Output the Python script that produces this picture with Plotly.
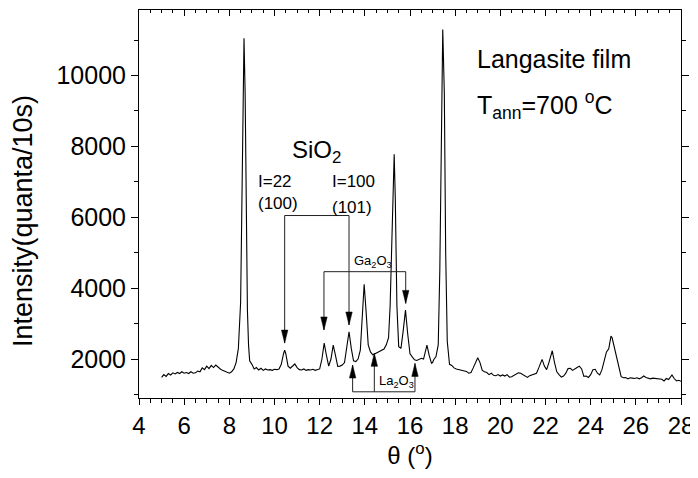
import plotly.graph_objects as go

theta = [5.0,5.1,5.2,5.3,5.4,5.5,5.6,5.7,5.8,5.9,6.0,6.1,6.2,6.3,6.4,6.5,6.6,6.7,6.8,6.9,
         7.0,7.1,7.2,7.3,7.4,7.5,7.6,7.7,7.8,7.9,8.0,8.1,8.2,8.3,8.4,8.5,8.55,8.6,8.65,8.7,
         8.75,8.8,8.85,8.9,9.0,9.1,9.2,9.3,9.4,9.5,9.6,9.7,9.8,9.9,10.0,10.1,10.2,10.3,10.4,10.45,
         10.5,10.6,10.7,10.8,10.9,11.0,11.1,11.2,11.3,11.4,11.5,11.6,11.7,11.8,11.9,12.0,12.1,12.2,12.3,12.4,
         12.5,12.6,12.7,12.8,12.9,13.0,13.1,13.2,13.3,13.4,13.5,13.6,13.7,13.8,13.9,13.97,14.05,14.15,14.25,14.35,
         14.45,14.55,14.65,14.75,14.85,14.95,15.05,15.12,15.2,15.27,15.3,15.35,15.42,15.5,15.6,15.7,15.8,15.9,16.0,16.1,
         16.2,16.3,16.4,16.5,16.6,16.7,16.75,16.85,16.95,17.0,17.05,17.15,17.25,17.32,17.38,17.45,17.52,17.58,17.65,17.75,
         17.85,17.95,18.05,18.15,18.25,18.35,18.5,18.6,18.7,18.8,18.9,19.0,19.1,19.2,19.3,19.4,19.5,19.6,19.7,19.8,
         19.9,20.0,20.1,20.2,20.3,20.4,20.5,20.6,20.7,20.8,20.9,21.0,21.1,21.2,21.3,21.4,21.5,21.6,21.7,21.8,
         21.85,21.95,22.05,22.15,22.25,22.3,22.4,22.5,22.6,22.7,22.8,22.9,23.0,23.1,23.2,23.3,23.4,23.5,23.6,23.7,
         23.8,23.9,24.0,24.1,24.2,24.3,24.4,24.5,24.6,24.7,24.8,24.9,24.95,25.05,25.15,25.25,25.35,25.45,25.55,25.65,
         25.75,25.85,25.95,26.05,26.15,26.25,26.35,26.45,26.55,26.65,26.75,26.85,26.95,27.05,27.15,27.25,27.35,27.45,27.55,27.6,
         27.7,27.8,27.9,28.0]
intensity = [1480,1560,1510,1590,1550,1610,1580,1620,1590,1640,1600,1620,1590,1640,1600,1610,1660,1640,1750,1700,
             1800,1730,1820,1760,1830,1760,1720,1680,1650,1620,1600,1640,1720,1900,2300,3600,6500,10000,11050,9500,
             6000,3400,2400,1950,1850,1720,1760,1690,1740,1680,1720,1690,1700,1680,1710,1700,1720,1850,2150,2250,
             2150,1800,1740,1800,1860,1760,1700,1690,1720,1680,1700,1690,1710,1680,1700,1720,2000,2450,2100,1800,
             2000,2390,2100,1790,1800,1830,1900,2300,2770,2300,1950,1930,2000,2250,3300,4110,3400,2400,2200,2120,
             2150,2180,2200,2230,2280,2400,2600,3500,5600,7550,7780,6500,3500,2350,2300,2800,3380,2700,2150,2060,
             1980,1960,2000,2020,2000,2300,2390,2100,1880,1900,1980,2070,2400,4500,8500,11300,9500,5000,2500,1850,
             1820,1750,1720,1700,1680,1660,1650,1600,1620,1750,1900,2036,1900,1680,1640,1620,1560,1600,1540,1530,
             1560,1520,1550,1520,1560,1490,1500,1540,1590,1610,1600,1560,1510,1480,1530,1560,1580,1600,1750,1950,
             1990,1800,1700,1900,2180,2233,1900,1640,1560,1490,1520,1600,1730,1740,1680,1730,1760,1800,1720,1510,
             1520,1480,1560,1700,1710,1600,1550,1700,1950,2200,2290,2648,2600,2300,2000,1700,1500,1470,1480,1440,
             1470,1460,1450,1470,1440,1470,1520,1480,1460,1440,1460,1450,1440,1420,1430,1380,1450,1420,1520,1550,
             1450,1380,1400,1370]

x_ticks = [4, 6, 8, 10, 12, 14, 16, 18, 20, 22, 24, 26, 28]
y_ticks = [2000, 4000, 6000, 8000, 10000]
y_ticktext = ["2000", "4000", "6000", "8000", "10000"]

# indicator brackets
sio2_x = [10.45, 13.3]
sio2_tip = [2450, 2960]
sio2_bar = 6050
ga_x = [12.19, 15.81]
ga_tip = [2820, 3570]
ga_bar = 4465
la_x = [13.46, 14.42, 16.22]
la_tip = [1830, 2160, 1877]
la_bar = 1075

X_RANGE = [4, 28]
Y_RANGE = [900, 11850]
FONT = "Liberation Sans, Arial, sans-serif"

fig = go.Figure()
fig.add_trace(go.Scatter(x=theta, y=intensity, mode="lines",
                         line=dict(color="black", width=1.1), hoverinfo="skip", showlegend=False))
# invisible trace to carry the top axis
fig.add_trace(go.Scatter(x=theta, y=intensity, mode="lines", line=dict(width=0),
                         opacity=0, xaxis="x2", yaxis="y2", hoverinfo="skip", showlegend=False))

LC = "#222222"
def bracket(xs, tips, bar):
    bx = [xs[0], xs[0], xs[-1], xs[-1]]
    by = [tips[0], bar, bar, tips[-1]]
    fig.add_trace(go.Scatter(x=bx, y=by, mode="lines", line=dict(color=LC, width=1),
                             hoverinfo="skip", showlegend=False))
    for xm, t in zip(xs[1:-1], tips[1:-1]):
        fig.add_trace(go.Scatter(x=[xm, xm], y=[bar, t], mode="lines", line=dict(color=LC, width=1),
                                 hoverinfo="skip", showlegend=False))

bracket(sio2_x, sio2_tip, sio2_bar)
bracket(ga_x, ga_tip, ga_bar)
bracket(la_x, la_tip, la_bar)

# arrowheads (pixel-sized, converted to data units)
px_per_x = 542 / (X_RANGE[1] - X_RANGE[0])
px_per_y = 388 / (Y_RANGE[1] - Y_RANGE[0])
HW = 3.2 / px_per_x
HL = 13 / px_per_y
def head(x, tip, down=True):
    base = tip + HL if down else tip - HL
    fig.add_shape(type="path", xref="x", yref="y",
                  path=f"M {x-HW},{base} L {x+HW},{base} L {x},{tip} Z",
                  fillcolor="black", line=dict(color="black", width=0.5))

for xx, t in zip(sio2_x, sio2_tip):
    head(xx, t, True)
for xx, t in zip(ga_x, ga_tip):
    head(xx, t, True)
for xx, t in zip(la_x, la_tip):
    head(xx, t, False)

def txt(x, y, s, size, xanchor="center"):
    fig.add_annotation(x=x, y=y, xref="x", yref="y", text=s, showarrow=False,
                       font=dict(family=FONT, size=size, color="black"), xanchor=xanchor)

txt(11.87, 7850, "SiO<sub>2</sub>", 24)
txt(10.02, 7000, "I=22", 17)
txt(10.16, 6380, "(100)", 17)
txt(13.49, 7000, "I=100", 17)
txt(13.42, 6290, "(101)", 17)
txt(14.35, 4746, "Ga<sub>2</sub>O<sub>3</sub>", 13)
txt(15.38, 1358, "La<sub>2</sub>O<sub>3</sub>", 13)
txt(18.88, 10460, "Langasite film", 25, "left")
txt(18.88, 9170, "T<sub>ann</sub>=700 <sup>o</sup>C", 25, "left")

# y-axis title (placed as rotated text to match the reference position)
fig.add_annotation(x=-0.214, y=0.456, xref="paper", yref="paper", text="Intensity(quanta/10s)",
                   textangle=-90, showarrow=False, xanchor="center", yanchor="middle",
                   font=dict(family=FONT, size=27, color="black"))

axis_common = dict(showgrid=False, zeroline=False, showline=True, linecolor="black", linewidth=1,
                   tickcolor="black", automargin=False)

# page body has an 8px margin; the figure is sized so the plot lands where the reference has it
fig.update_layout(
    width=690, height=470,
    margin=dict(l=131, r=17, t=2, b=80),
    paper_bgcolor="white", plot_bgcolor="white",
    font=dict(family=FONT, color="black"),
    xaxis=dict(range=X_RANGE, tickvals=x_ticks, ticks="outside", ticklen=6, mirror=True,
               tickfont=dict(family=FONT, size=24, color="black"),
               minor=dict(dtick=0.5, tick0=4, ticks="outside", ticklen=4, tickcolor="black"),
               title=dict(text="θ (<sup>o</sup>)", font=dict(family=FONT, size=24), standoff=8),
               **axis_common),
    yaxis=dict(range=Y_RANGE, tickvals=y_ticks, ticktext=y_ticktext, ticks="outside", ticklen=7,
               mirror="allticks", tickfont=dict(family=FONT, size=25, color="black"),
               minor=dict(dtick=1000, tick0=0, ticks="outside", ticklen=4, tickcolor="black"),
               **axis_common),
    xaxis2=dict(range=X_RANGE, overlaying="x", side="top", anchor="y", tickvals=x_ticks,
                ticks="inside", ticklen=6, showticklabels=False, showline=False, showgrid=False,
                zeroline=False, tickcolor="black", automargin=False,
                minor=dict(dtick=0.5, tick0=4, ticks="inside", ticklen=3, tickcolor="black")),
    yaxis2=dict(range=Y_RANGE, overlaying="y", side="right", anchor="x", showticklabels=False,
                ticks="", showline=False, showgrid=False, zeroline=False, automargin=False),
)

fig.write_html("out.html")
